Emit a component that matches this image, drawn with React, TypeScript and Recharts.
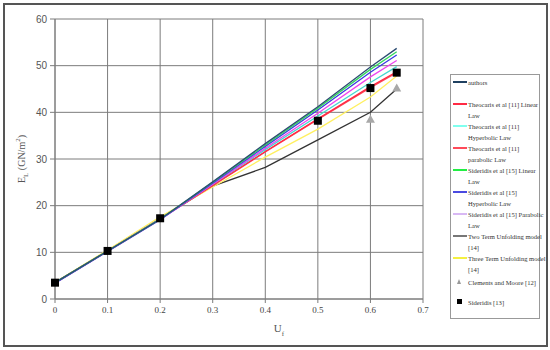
import React from "react";
import { ComposedChart, Line, XAxis, YAxis, CartesianGrid } from "recharts";

const uf = [0, 0.1, 0.2, 0.3, 0.4, 0.5, 0.6, 0.65];
const authors = [3.5, 10.3, 17.1, 25.1, 33.3, 41.2, 49.7, 53.7];
const theoLinear = [3.5, 10.3, 17.2, 24.4, 31.6, 38.6, 45.5, 48.7];
const theoHyper = [3.5, 10.3, 17.2, 24.6, 32.0, 39.2, 46.4, 49.8];
const theoPara = [3.5, 10.3, 17.2, 24.3, 31.5, 38.5, 45.3, 48.5];
const sidLinear = [3.5, 10.3, 17.1, 25.0, 33.0, 40.9, 49.2, 53.0];
const sidHyper = [3.4, 10.2, 17.0, 24.8, 32.7, 40.5, 48.6, 52.3];
const sidPara = [3.4, 10.2, 17.0, 24.6, 32.3, 39.8, 47.6, 51.1];
const twoTerm = [3.5, 10.3, 17.2, 24.2, 28.2, 34.1, 40.0, 45.0];
const threeTerm = [3.6, 10.5, 17.6, 24.0, 30.4, 36.4, 43.3, 47.8];
const clements = [null, null, null, null, null, null, 38.5, 45.2];
const sideridis13 = [3.5, 10.3, 17.3, null, null, 38.2, 45.2, 48.5];

const xTicks = [0, 0.1, 0.2, 0.3, 0.4, 0.5, 0.6, 0.7];
const yTicks = [0, 10, 20, 30, 40, 50, 60];

const series = [
  { key: "twoTerm", values: twoTerm, name: ["Two Term Unfolding model", "[14]"], color: "#333333", legend: "#777777" },
  { key: "threeTerm", values: threeTerm, name: ["Three Term Unfolding model", "[14]"], color: "#fff060", legend: "#f4f040" },
  { key: "theoPara", values: theoPara, name: ["Theocaris et al [11]", "parabolic Law"], color: "#ff4a5a", legend: "#ff4a5a" },
  { key: "theoLinear", values: theoLinear, name: ["Theocaris et al [11] Linear", "Law"], color: "#ff2a44", legend: "#ff2a44" },
  { key: "theoHyper", values: theoHyper, name: ["Theocaris et al [11]", "Hyperbolic Law"], color: "#44d8d0", legend: "#80ffee" },
  { key: "sidPara", values: sidPara, name: ["Sideridis et al [15] Parabolic", "Law"], color: "#ee44ee", legend: "#d8b8f4" },
  { key: "sidHyper", values: sidHyper, name: ["Sideridis et al [15]", "Hyperbolic Law"], color: "#3a3ae0", legend: "#4a4ae0" },
  { key: "sidLinear", values: sidLinear, name: ["Sideridis et al [15] Linear", "Law"], color: "#33d860", legend: "#22ee44" },
  { key: "authors", values: authors, name: ["authors"], color: "#2c4c72", legend: "#1f4060" },
];

const legendOrder = ["authors", "theoLinear", "theoHyper", "theoPara", "sidLinear", "sidHyper", "sidPara", "twoTerm", "threeTerm"];
const legendRows = [82, 104, 126, 148, 170, 192, 214, 236, 258];

const rows = uf.map((x, i) => {
  const r: any = { x, clements: clements[i], sideridis13: sideridis13[i] };
  series.forEach((s) => (r[s.key] = s.values[i]));
  return r;
});

const Square = (p: any) => {
  if (p.cy == null || p.value == null) return <g key={p.index} />;
  return <rect key={p.index} x={p.cx - 4} y={p.cy - 4} width={8} height={8} fill="#000" />;
};

const Triangle = (p: any) => {
  if (p.cy == null || p.value == null) return <g key={p.index} />;
  return (
    <path
      key={p.index}
      d={`M${p.cx},${p.cy - 4.5} L${p.cx + 4.5},${p.cy + 3.5} L${p.cx - 4.5},${p.cy + 3.5} Z`}
      fill="#a8a8a8"
    />
  );
};

const serif = "'Liberation Serif', 'Times New Roman', serif";
const sans = "'Liberation Sans', Arial, sans-serif";

export default function App() {
  return (
    <div style={{ position: "absolute", left: 0, top: 0, width: 550, height: 350, background: "#fff" }}>
      <div
        style={{
          position: "absolute",
          left: 3,
          top: 3,
          width: 541,
          height: 340,
          border: "2px solid #555",
        }}
      />
      <div style={{ position: "absolute", left: 0, top: 0 }}>
        <ComposedChart width={550} height={350} data={rows} margin={{ top: 19, right: 127, left: 15, bottom: 21 }}>
          <CartesianGrid stroke="#7c7c7c" strokeWidth={1} />
          <XAxis
            dataKey="x"
            type="number"
            domain={[0, 0.7]}
            ticks={xTicks}
            height={30}
            stroke="#7c7c7c"
            tickSize={4}
            tickMargin={4}
            tick={{ fill: "#444", fontSize: 9, fontFamily: serif }}
          />
          <YAxis
            type="number"
            domain={[0, 60]}
            ticks={yTicks}
            width={40}
            stroke="#7c7c7c"
            tickSize={5}
            tickMargin={3}
            tick={{ fill: "#555", fontSize: 10, fontFamily: sans }}
          />
          {series.map((s) => (
            <Line
              key={s.key}
              dataKey={s.key}
              stroke={s.color}
              strokeWidth={1.3}
              dot={false}
              activeDot={false}
              type="linear"
              isAnimationActive={false}
            />
          ))}
          <Line dataKey="clements" stroke="none" dot={Triangle} activeDot={false} isAnimationActive={false} />
          <Line dataKey="sideridis13" stroke="none" dot={Square} activeDot={false} isAnimationActive={false} />
        </ComposedChart>
      </div>
      <div
        style={{
          position: "absolute",
          left: 22,
          top: 159,
          transform: "translate(-50%, -50%) rotate(-90deg)",
          fontFamily: serif,
          fontSize: 10,
          color: "#555",
          whiteSpace: "nowrap",
        }}
      >
        E<sub style={{ fontSize: 7 }}>L</sub> (GN/m<sup style={{ fontSize: 7 }}>2</sup>)
      </div>
      <div
        style={{
          position: "absolute",
          left: 279,
          top: 330,
          transform: "translate(-50%, -50%)",
          fontFamily: serif,
          fontSize: 11,
          color: "#555",
          whiteSpace: "nowrap",
        }}
      >
        U<sub style={{ fontSize: 7 }}>f</sub>
      </div>
      <div
        style={{
          position: "absolute",
          left: 450,
          top: 74,
          width: 88,
          height: 243,
          border: "1px solid #999",
          fontFamily: serif,
          fontSize: 6.6,
          color: "#333",
        }}
      >
        {legendOrder.map((k, i) => {
          const s = series.find((d) => d.key === k)!;
          const y = legendRows[i] - 75;
          return (
            <div key={k} style={{ position: "absolute", left: 0, top: y - 5 }}>
              <div style={{ position: "absolute", left: 2, top: 4, width: 14, height: 1.6, background: s.legend }} />
              <div style={{ position: "absolute", left: 17, top: 0, width: 72, lineHeight: "11px", whiteSpace: "nowrap" }}>
                {s.name.map((t, j) => (
                  <div key={j}>{t}</div>
                ))}
              </div>
            </div>
          );
        })}
        <div style={{ position: "absolute", left: 0, top: 282 - 75 - 5 }}>
          <div
            style={{
              position: "absolute",
              left: 6,
              top: 2,
              width: 0,
              height: 0,
              borderLeft: "2.5px solid transparent",
              borderRight: "2.5px solid transparent",
              borderBottom: "5px solid #999",
            }}
          />
          <div style={{ position: "absolute", left: 17, top: 0, lineHeight: "11px", whiteSpace: "nowrap" }}>
            Clements and Moore [12]
          </div>
        </div>
        <div style={{ position: "absolute", left: 0, top: 302 - 75 - 5 }}>
          <div style={{ position: "absolute", left: 6, top: 2, width: 5, height: 5, background: "#000" }} />
          <div style={{ position: "absolute", left: 17, top: 0, lineHeight: "11px", whiteSpace: "nowrap" }}>
            Sideridis [13]
          </div>
        </div>
      </div>
    </div>
  );
}
